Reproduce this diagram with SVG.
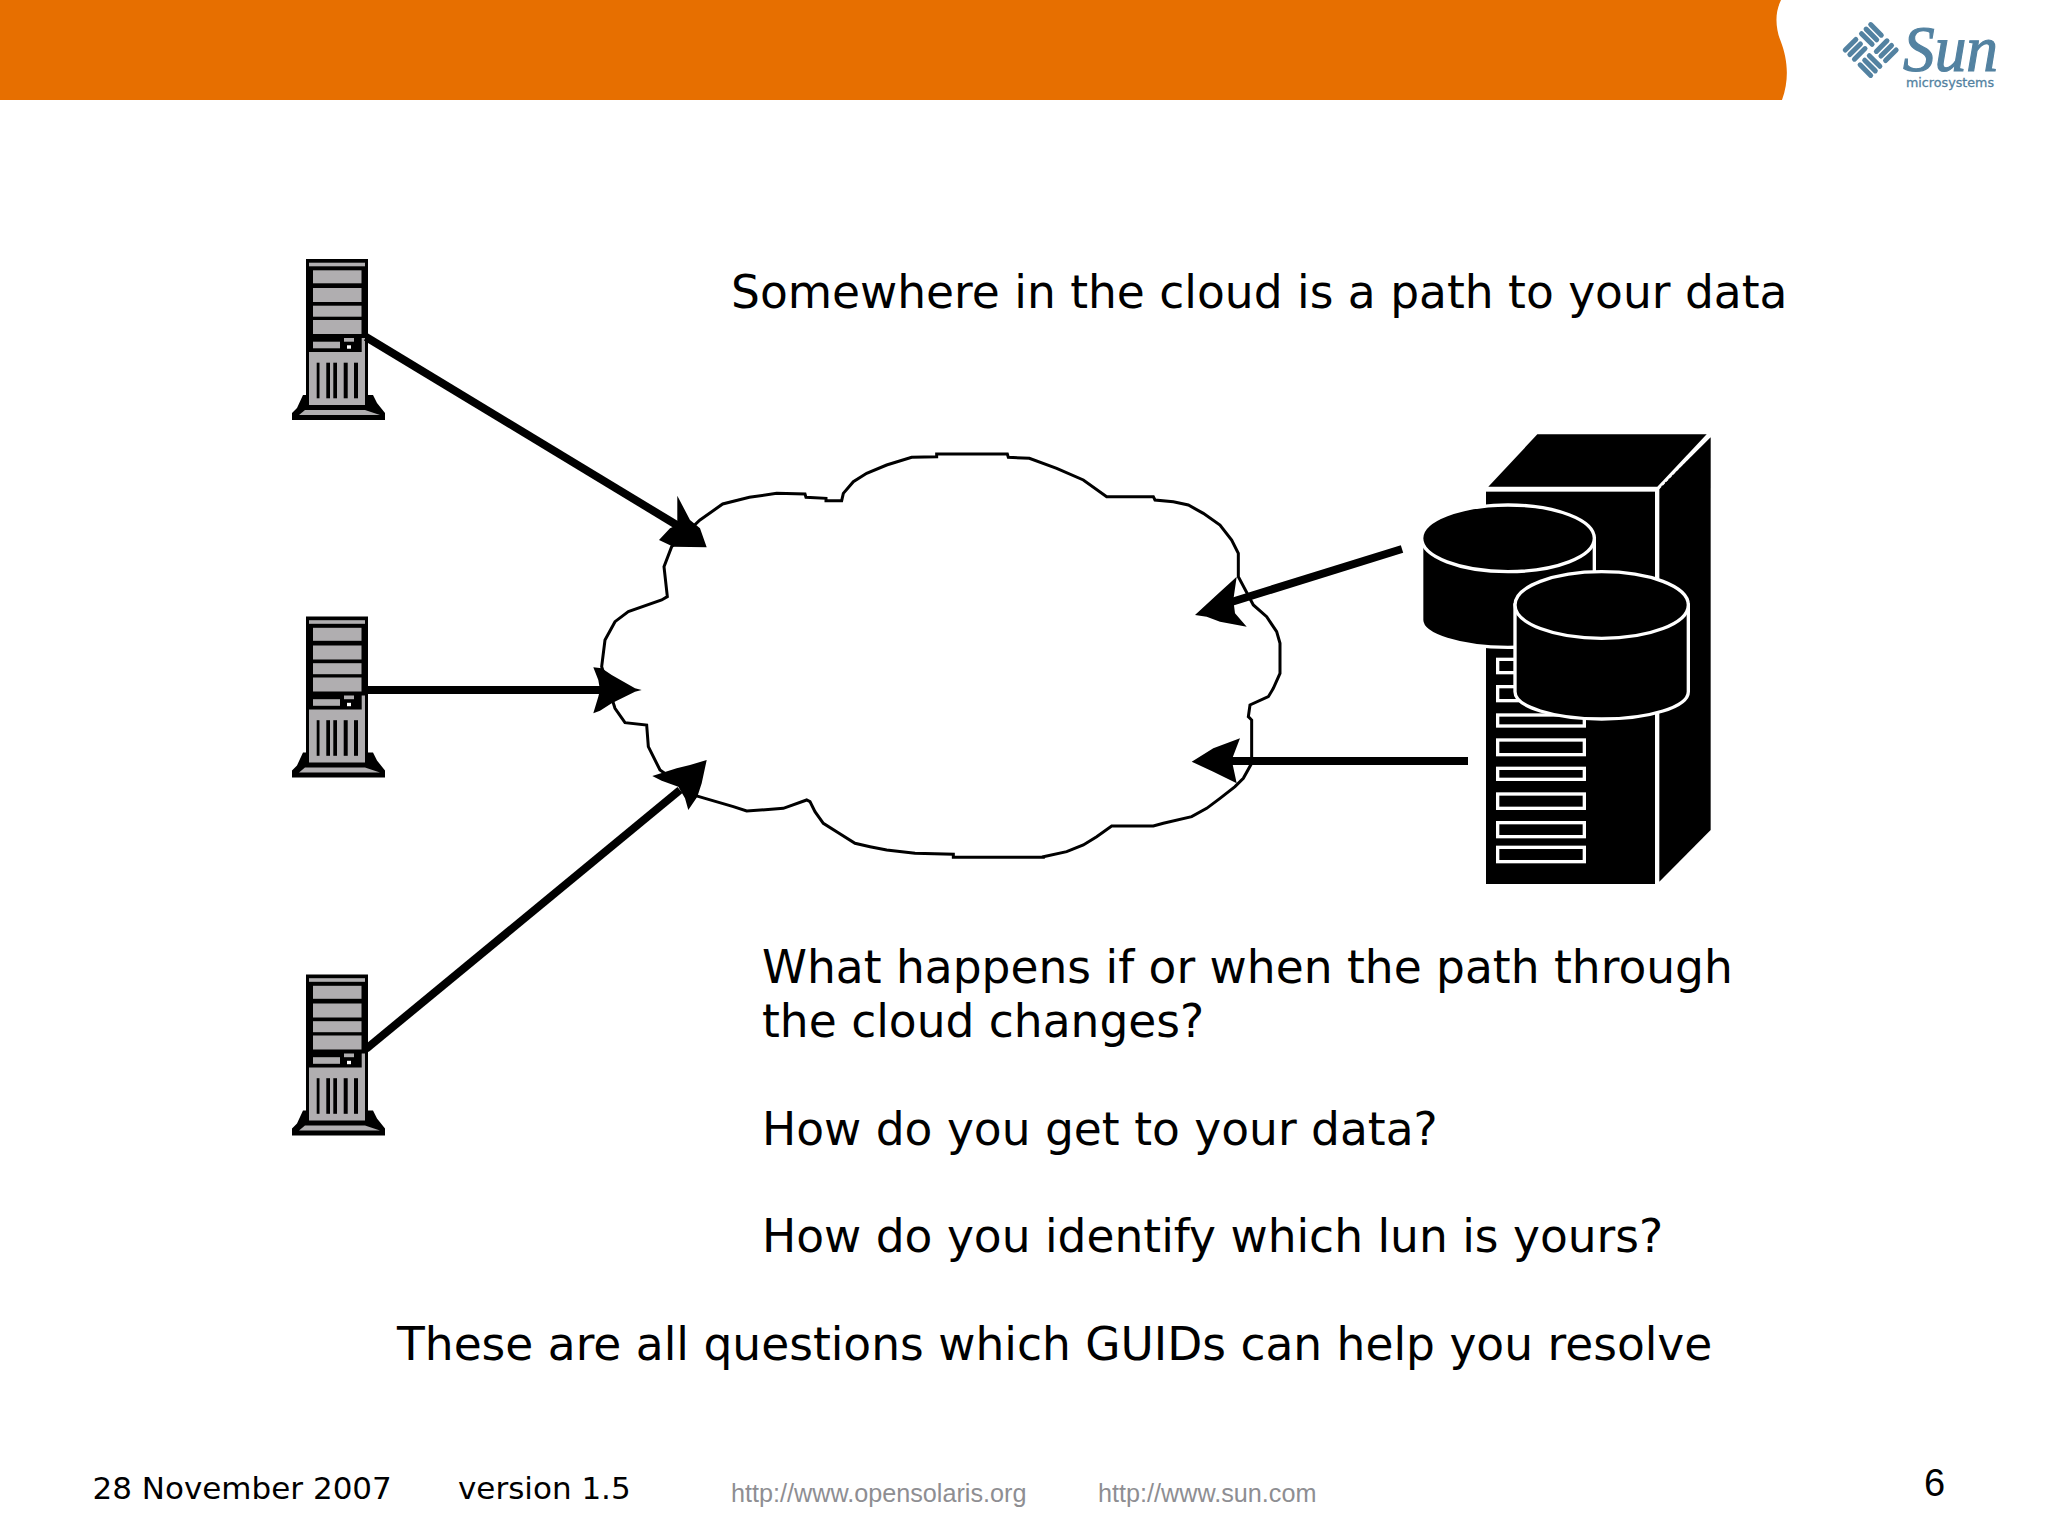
<svg xmlns="http://www.w3.org/2000/svg" width="2048" height="1535" viewBox="0 0 2048 1535">
<style>
.t{font-family:"DejaVu Sans",sans-serif;font-size:45.5px;fill:#000}
.f{font-family:"DejaVu Sans",sans-serif;font-size:31px;fill:#000}
.u{font-family:"Liberation Sans",Arial,sans-serif;font-size:25.2px;fill:#8e8e92}
.n{font-family:"Liberation Sans",Arial,sans-serif;font-size:38px;fill:#000}
.g{fill:#b0aeb0}
.k{fill:#000}
.w{fill:none;stroke:#fff;stroke-width:10}
.wb{fill:#000;stroke:#fff;stroke-width:10}
.conn{fill:none;stroke:#000;stroke-width:8}
.logo{fill:none;stroke:#5382a1;stroke-width:5;stroke-linecap:round}
</style>
<defs>
<g id="srv">
<polygon class="k" points="12,180 12,173 17,168 23,155 26,155 26,19 88,19 88,155 93,155 97,163 105,173 105,180"/>
<polygon class="g" points="19,175 25,170 85,170 100,175"/>
<rect class="g" x="29" y="22.7" width="56" height="3.6"/>
<rect class="g" x="33" y="30.3" width="48.5" height="13"/>
<rect class="g" x="33" y="48" width="48.5" height="14"/>
<rect class="g" x="33" y="65.7" width="48.5" height="11"/>
<rect class="g" x="33" y="80" width="48.5" height="14"/>
<rect class="g" x="33" y="101.7" width="27" height="6.6"/>
<rect class="g" x="64" y="98" width="10" height="3.7"/>
<rect x="67" y="105.3" width="4" height="3.4" fill="#fff"/>
<polygon class="g" points="29,112 81.7,112 81.7,98 85,98 85,165 29,165"/>
<rect class="k" x="36.7" y="122.7" width="2.8" height="35.6"/>
<rect class="k" x="46.3" y="122.7" width="3.7" height="35.6"/>
<rect class="k" x="53.3" y="122.7" width="3.7" height="35.6"/>
<rect class="k" x="63.7" y="122.7" width="4" height="35.6"/>
<rect class="k" x="74" y="122.7" width="4" height="35.6"/>
</g>
</defs>
<g id="banner">
<path d="M0,0H1781C1774,14 1776,30 1781,42C1787,58 1790,78 1782,100H0Z" fill="#e76f00"/>
</g>
<g id="sun-logo">
<g transform="translate(1870.700,50) rotate(45)">
<path class="logo" d="M-3,-18H-18M-3,-11.500H-18M-3,-5H-18"/>
<path class="logo" d="M18,-3V-18M11.500,-3V-18M5,-3V-18"/>
<path class="logo" d="M3,18H18M3,11.500H18M3,5H18"/>
<path class="logo" d="M-18,3V18M-11.500,3V18M-5,3V18"/>
</g>
<text x="1903" y="71" font-family="Liberation Serif,serif" font-style="italic" font-size="66" fill="#5382a1" stroke="#5382a1" stroke-width="1.2" textLength="95" lengthAdjust="spacingAndGlyphs">Sun</text>
<text x="1906" y="87" font-family="DejaVu Sans,sans-serif" font-size="12.500" fill="#5382a1" stroke="#5382a1" stroke-width=".3" textLength="88" lengthAdjust="spacingAndGlyphs">microsystems</text>
</g>
<g id="server-1"><use href="#srv" x="280" y="240"/></g>
<g id="server-2"><use href="#srv" x="280" y="597.500"/></g>
<g id="server-3"><use href="#srv" x="280" y="955.500"/></g>
<g id="cloud" transform="translate(590,440) scale(.33333)">
<path fill="none" stroke="#000" stroke-width="9" d="M330,240 398,192 478,172 560,160 645,162 648,172 708,175 708,182 755,182 760,160 790,125 830,100 890,75 965,52 1040,50 1040,42 1252,42 1255,52 1318,55 1400,85 1480,120 1550,170 1690,170 1695,180 1750,185 1795,195 1840,220 1890,255 1925,300 1945,340 1945,410 1990,495 2030,530 2060,575 2070,610 2070,700 2050,745 2035,770 1980,795 1975,830 1985,840 1985,970 1960,1015 1935,1040 1890,1075 1850,1105 1805,1130 1720,1150 1690,1158 1565,1158 1520,1190 1480,1215 1430,1235 1360,1250 1360,1252 1090,1252 1090,1243 975,1240 890,1230 840,1220 795,1210 740,1175 700,1150 675,1115 660,1085 650,1080 580,1105 470,1113 430,1100 345,1075 320,1068 210,990 175,920 170,855 105,848 75,805 35,680 45,600 75,545 115,515 215,480 232,470 222,380 245,320Z"/>
</g>
<g id="storage" transform="translate(1400,420) scale(.33333)">
<polygon class="k" points="265,200 412,43 920,43 772,200"/>
<polygon class="k" points="778,205 932,52 932,1230 778,1385"/>
<rect class="k" x="258" y="215" width="507" height="1177"/>
<path d="M775,205 922,52" fill="none" stroke="#fff" stroke-width="8" stroke-dasharray="10 5"/>
<path class="wb" d="M65,355V600A259,82 0 0 0 583,600V355Z"/>
<ellipse class="wb" cx="324" cy="355" rx="259" ry="100"/>
<rect class="w" x="293" y="718" width="260" height="40"/>
<rect class="w" x="293" y="800" width="260" height="42"/>
<rect class="w" x="293" y="885" width="260" height="33"/>
<rect class="w" x="293" y="960" width="260" height="44"/>
<rect class="w" x="293" y="1045" width="260" height="33"/>
<rect class="w" x="293" y="1122" width="260" height="43"/>
<rect class="w" x="293" y="1208" width="260" height="42"/>
<rect class="w" x="293" y="1282" width="260" height="43"/>
<path class="wb" d="M345,555V815A260,82 0 0 0 865,815V555Z"/>
<ellipse class="wb" cx="605" cy="555" rx="260" ry="100"/>
</g>
<g id="connectors">
<path class="conn" d="M366,337 680,527"/>
<path class="conn" d="M366,690H610"/>
<path class="conn" d="M366,1049 680,790"/>
<path class="conn" d="M1402,549 1225,604"/>
<path class="conn" d="M1468,761H1225"/>
<polygon class="k" points="677.300,495.700 690,520 700,528.300 706.700,547.300 673.300,546.700 659,540 670,528.300 677.300,525"/>
<polygon class="k" points="593.300,667.300 601.700,668.300 611.700,675 635,688.300 641.700,690 635,691.700 611.700,703.300 600,710.700 593.300,713.300 598.300,696.700 600,690 598.300,680"/>
<polygon class="k" points="706.700,760 701.700,783.300 697.300,796.700 688.300,810 685,798.300 678.300,786.700 661.700,780.700 652.300,776 676.700,768.300 690,765"/>
<polygon class="k" points="1195,615 1216.700,595 1236.700,576.700 1233.300,600 1235,613.300 1246.700,626.700 1220,621.700 1206.700,616.700"/>
<polygon class="k" points="1191.700,761.700 1213.300,748.300 1240,738.300 1231.700,760 1236.700,783.300 1213.300,771.700"/>
</g>
<g id="texts">
<text class="t" x="731" y="308">Somewhere in the cloud is a path to your data</text>
<text class="t" x="762" y="983">What happens if or when the path through</text>
<text class="t" x="762" y="1037">the cloud changes?</text>
<text class="t" x="762" y="1145">How do you get to your data?</text>
<text class="t" x="762" y="1252">How do you identify which lun is yours?</text>
<text class="t" x="397" y="1360">These are all questions which GUIDs can help you resolve</text>
<text class="f" x="92.500" y="1499">28 November 2007</text>
<text class="f" x="458" y="1499">version 1.5</text>
<text class="u" x="731" y="1501.500">http://www.opensolaris.org</text>
<text class="u" x="1098" y="1501.500">http://www.sun.com</text>
<text class="n" x="1924" y="1496">6</text>
</g>
</svg>
